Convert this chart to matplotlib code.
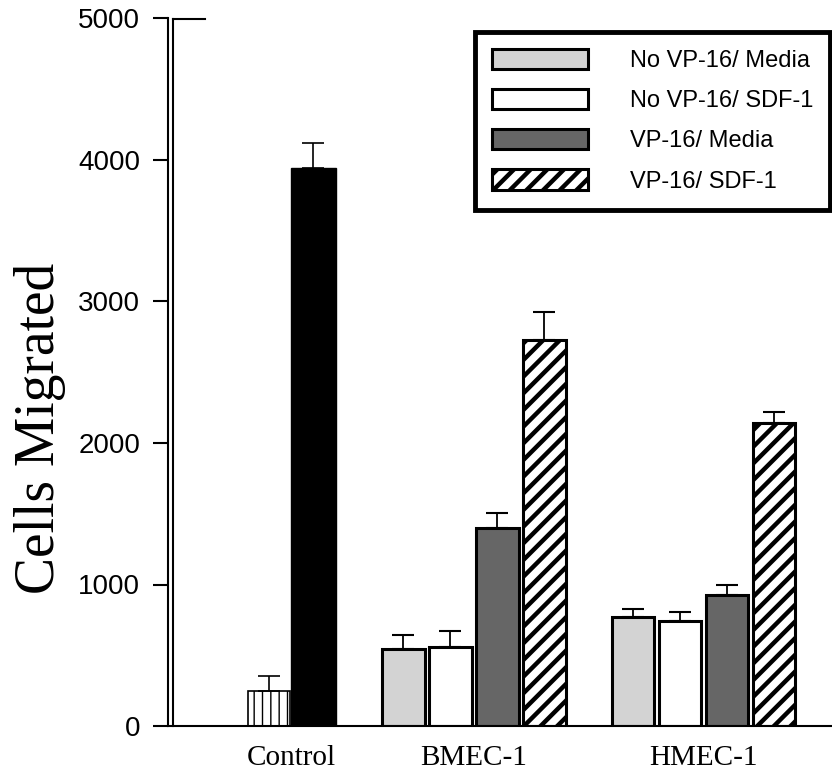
import matplotlib
matplotlib.use("Agg")
import matplotlib.pyplot as plt
import numpy as np
from matplotlib.lines import Line2D

# ---- data ----
groups = ["Control", "BMEC-1", "HMEC-1"]
series_labels = ["No VP-16/ Media", "No VP-16/ SDF-1", "VP-16/ Media", "VP-16/ SDF-1"]
control_vals = [245, 3940]
control_err = [105, 180]
no_vp16_media = [545, 770]
no_vp16_media_err = [95, 57]
no_vp16_sdf1 = [560, 742]
no_vp16_sdf1_err = [110, 63]
vp16_media = [1400, 925]
vp16_media_err = [105, 70]
vp16_sdf1 = [2725, 2143]
vp16_sdf1_err = [200, 75]
y_ticks = [0, 1000, 2000, 3000, 4000, 5000]

W, H = 832, 772
fig = plt.figure(figsize=(W / 100, H / 100), dpi=100)
left_px, right_px, top_px, bot_px = 168, 832, 18.5, 726
ax = fig.add_axes([left_px / W, 1 - bot_px / H, (right_px - left_px) / W, (bot_px - top_px) / H])

px_per_unit = 47.0
ax.set_xlim(0, (right_px - left_px) / px_per_unit)
ax.set_ylim(0, 5000)

group_centers = [2.62, 6.51, 11.39]
bw = 0.9

# control group
ctrl_x = [group_centers[0] - 0.47, group_centers[0] + 0.47]
plt.rcParams['hatch.linewidth'] = 1.0
ax.bar(ctrl_x[0], control_vals[0], width=0.88, facecolor="white", edgecolor="black",
       hatch="||", linewidth=1.2, zorder=2)
ax.bar(ctrl_x[1], control_vals[1], width=0.95, facecolor="black", edgecolor="black",
       linewidth=1.0, zorder=2)
ax.errorbar(ctrl_x, control_vals, yerr=[[0, 0], control_err], fmt="none",
            ecolor="black", elinewidth=1.2, capsize=8, capthick=1.2, zorder=3)

series_vals = [no_vp16_media, no_vp16_sdf1, vp16_media, vp16_sdf1]
series_errs = [no_vp16_media_err, no_vp16_sdf1_err, vp16_media_err, vp16_sdf1_err]
faces = ["#d3d3d3", "white", "#666666", "white"]
hatches = [None, None, None, "//"]
offsets = [-1.5, -0.5, 0.5, 1.5]
xs_groups = np.array(group_centers[1:])
handles = []
for i in range(4):
    plt.rcParams['hatch.linewidth'] = 3.2 if hatches[i] else 1.0
    xs = xs_groups + offsets[i]
    b = ax.bar(xs, series_vals[i], width=bw, facecolor=faces[i], edgecolor="black",
               hatch=hatches[i], linewidth=2.2, label=series_labels[i], zorder=2)
    handles.append(b)
    ax.errorbar(xs, series_vals[i], yerr=[[0] * len(xs), series_errs[i]], fmt="none",
                ecolor="black", elinewidth=1.3, capsize=8, capthick=1.5, zorder=3)
plt.rcParams['hatch.linewidth'] = 3.2

# axes styling
for s in ["top", "right"]:
    ax.spines[s].set_visible(False)
ax.spines["left"].set_linewidth(1.5)
ax.spines["bottom"].set_linewidth(1.5)
ax.set_yticks(y_ticks)
ax.set_yticklabels([str(t) for t in y_ticks], fontsize=20, family="Liberation Sans")
ax.tick_params(axis="y", length=11, width=1.5, pad=9, direction="out")
ax.set_xticks(group_centers)
ax.set_xticklabels(groups, fontsize=21, family="Liberation Serif")
ax.tick_params(axis="x", length=0, pad=14)

# inner second vertical axis line
fig.add_artist(Line2D([173 / W, 173 / W], [1 - bot_px / H, 1 - top_px / H],
                      transform=fig.transFigure, color="black", lw=1.5))
# short top segment
fig.add_artist(Line2D([173 / W, 205 / W], [1 - top_px / H, 1 - top_px / H],
                      transform=fig.transFigure, color="black", lw=1.5))

fig.text(40 / W, 1 - 428 / H, "Cells Migrated", rotation=90, ha="center", va="center",
         fontsize=40, family="Liberation Serif")

leg = ax.legend(handles=handles, loc="upper right", bbox_to_anchor=(830 / W, 1 - 32 / H),
                bbox_transform=fig.transFigure, prop={"family": "Liberation Sans", "size": 17},
                handlelength=4.1, handleheight=0.93, handletextpad=1.75, labelspacing=0.72,
                borderpad=0.72, borderaxespad=0, fancybox=False, framealpha=1, edgecolor="black")
leg.get_frame().set_linewidth(3.5)

fig.savefig("out.png", dpi=100)
